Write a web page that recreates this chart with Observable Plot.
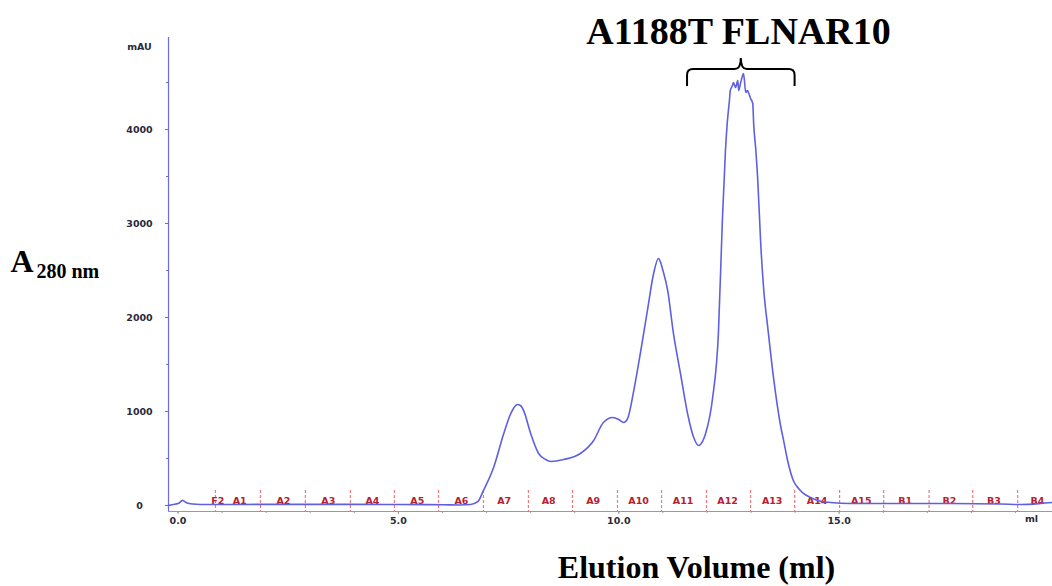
<!DOCTYPE html>
<html><head><meta charset="utf-8">
<script src="https://cdn.jsdelivr.net/npm/d3@7"></script>
<script src="https://cdn.jsdelivr.net/npm/@observablehq/plot@0.6"></script>
<style>html,body{margin:0;padding:0;background:#fff}#chart svg{display:block}</style>
</head><body><div id="chart"></div>
<script>
// Elution volume (ml) and absorbance (mAU)
const volume = [-0.22, -0.12, 0.0, 0.06, 0.10, 0.14, 0.19, 0.33, 0.51, 1.0, 2.0, 3.0, 4.0, 5.0, 6.0, 6.4, 6.64, 6.80, 6.93, 7.16, 7.39, 7.54, 7.61, 7.70, 7.77, 7.84, 8.0, 8.18, 8.34, 8.46, 8.75, 9.13, 9.43, 9.65, 9.86, 10.0, 10.11, 10.20, 10.34, 10.50, 10.66, 10.79, 10.90, 10.95, 10.99, 11.11, 11.24, 11.40, 11.56, 11.70, 11.81, 11.90, 11.97, 12.13, 12.26, 12.35, 12.42, 12.46, 12.51, 12.53, 12.58, 12.60, 12.65, 12.70, 12.72, 12.76, 12.81, 12.83, 12.88, 12.92, 12.95, 12.99, 13.04, 13.06, 13.11, 13.15, 13.22, 13.29, 13.38, 13.51, 13.67, 13.74, 13.83, 13.96, 14.08, 14.19, 14.35, 14.51, 14.80, 15.26, 16.39, 17.53, 18.66, 19.12, 19.57, 19.84];
const absorbance = [0, 10, 20, 40, 55, 45, 30, 15, 10, 10, 12, 12, 12, 10, 8, 5, 10, 40, 160, 404, 766, 968, 1032, 1074, 1064, 1011, 766, 553, 489, 468, 489, 553, 691, 883, 936, 915, 883, 925, 1223, 1649, 2106, 2468, 2628, 2585, 2521, 2287, 1830, 1404, 979, 723, 638, 681, 766, 1149, 1830, 3032, 3777, 4064, 4309, 4415, 4468, 4500, 4447, 4521, 4415, 4489, 4574, 4596, 4394, 4415, 4383, 4330, 4277, 4064, 3777, 3489, 2787, 2287, 1894, 1362, 851, 691, 479, 266, 181, 128, 85, 53, 32, 21, 21, 21, 16, 10, 21, 32];

// Fraction collector marks
const fractionBounds = [0.85, 1.87, 2.89, 3.91, 4.91, 5.91, 6.93, 7.95, 8.95, 9.97, 10.97, 11.99, 12.99, 13.99, 15.01, 16.01, 17.04, 18.03, 19.05];
const fractionNames = ["F2", "A1", "A2", "A3", "A4", "A5", "A6", "A7", "A8", "A9", "A10", "A11", "A12", "A13", "A14", "A15", "B1", "B2", "B3", "B4"];
const fractionLabelX = [0.90, 1.40, 2.39, 3.41, 4.41, 5.43, 6.43, 7.40, 8.41, 9.42, 10.45, 11.46, 12.47, 13.48, 14.50, 15.50, 16.50, 17.50, 18.51, 19.50];

// Axes
const xDomain = [-0.216, 19.84];
const yDomain = [-64, 4979];
const xTicks = [0, 5, 10, 15];
const xMinorTicks = d3.range(0, 20, 1);
const yTicks = [0, 1000, 2000, 3000, 4000];
const yMinorTicks = d3.range(0, 5000, 500);

// Annotation
const titleText = "A1188T FLNAR10";
const bracketRange = [11.56, 14.0];
const bracketLevel = 4638;
const xUnit = "ml";
const yUnit = "mAU";
const xTitle = "Elution Volume (ml)";
const yTitleMain = "A";
const yTitleSub = "280 nm";

const table = volume.map((v, i) => ({volume: v, absorbance: absorbance[i]}));

const curveColor = "#5f5fe2";
const axisColor = "#6c6ce0";
const fracLine = "#ea7a84";
const fracText = "#b8202e";
const tickFont = "DejaVu Sans";
const serif = "Liberation Serif";

function brace(index, {x, y}) {
  const x0 = x(bracketRange[0]), x1 = x(bracketRange[1]), xm = (x0 + x1) / 2;
  const yb = y(bracketLevel);
  const p = d3.path();
  p.moveTo(x0, yb + 17);
  p.lineTo(x0, yb + 6);
  p.quadraticCurveTo(x0, yb, x0 + 6, yb);
  p.lineTo(xm - 6, yb);
  p.quadraticCurveTo(xm, yb, xm, yb - 11);
  p.quadraticCurveTo(xm, yb, xm + 6, yb);
  p.lineTo(x1 - 6, yb);
  p.quadraticCurveTo(x1, yb, x1, yb + 6);
  p.lineTo(x1, yb + 17);
  return d3.create("svg:path").attr("d", p.toString()).attr("fill", "none")
    .attr("stroke", "#000").attr("stroke-width", 2).node();
}

const chart = Plot.plot({
  width: 1052,
  height: 586,
  marginLeft: 168,
  marginRight: 0,
  marginTop: 37,
  marginBottom: 75,
  x: {domain: xDomain, axis: null},
  y: {domain: yDomain, axis: null},
  style: {background: "#fff"},
  marks: [
    Plot.ruleX(fractionBounds, {stroke: fracLine, strokeDasharray: "3,2", strokeWidth: 1.2, insetTop: 453}),
    Plot.text(fractionNames, {x: (d, i) => fractionLabelX[i], frameAnchor: "bottom", dy: -8, fill: fracText, fontFamily: tickFont, fontWeight: "bold", fontSize: 9.5, letterSpacing: 0.8}),
    Plot.ruleY([yDomain[0]], {stroke: "#9a9a9a", strokeWidth: 1}),
    Plot.ruleX([xDomain[0]], {stroke: axisColor, strokeWidth: 1.2}),
    Plot.axisX(xMinorTicks, {tickSize: 2, tickFormat: () => "", stroke: "#9a9a9a", label: null}),
    Plot.axisX(xTicks, {tickSize: 3, tickPadding: 3, tickFormat: d => d.toFixed(1), stroke: "#9a9a9a", fill: "#2a2a3a", fontFamily: tickFont, fontWeight: "bold", fontSize: 9.5, letterSpacing: 0.6, label: null}),
    Plot.axisY(yMinorTicks, {tickSize: 2, tickFormat: () => "", stroke: axisColor, label: null}),
    Plot.axisY(yTicks, {tickSize: 3, tickPadding: 26, textAnchor: "middle", tickFormat: d => String(d), stroke: axisColor, fill: "#2a2a3a", fontFamily: tickFont, fontWeight: "bold", fontSize: 9.5, letterSpacing: 0.6, label: null}),
    Plot.text([yUnit], {frameAnchor: "top-left", dx: -29, dy: 6, textAnchor: "middle", fill: "#2a2a3a", fontFamily: tickFont, fontWeight: "bold", fontSize: 9.5, letterSpacing: 0.6}),
    Plot.text([xUnit], {frameAnchor: "bottom-right", dx: -21, dy: 10, textAnchor: "middle", fill: "#2a2a3a", fontFamily: tickFont, fontWeight: "bold", fontSize: 9.5}),
    Plot.line(table, {x: "volume", y: "absorbance", stroke: curveColor, strokeWidth: 1.6, curve: "monotone-x"}),
    brace,
    Plot.text([titleText], {frameAnchor: "top-left", dx: 570, dy: -20, textAnchor: "middle", fill: "#000", fontFamily: serif, fontWeight: "bold", fontSize: 38}),
    Plot.text([xTitle], {frameAnchor: "bottom-left", dx: 528, dy: 66, textAnchor: "middle", fill: "#000", fontFamily: serif, fontWeight: "bold", fontSize: 32}),
    Plot.text([yTitleMain], {frameAnchor: "left", dx: -158, dy: -13, textAnchor: "start", fill: "#000", fontFamily: serif, fontWeight: "bold", fontSize: 32}),
    Plot.text([yTitleSub], {frameAnchor: "left", dx: -132, dy: -3, textAnchor: "start", fill: "#000", fontFamily: serif, fontWeight: "bold", fontSize: 20})
  ]
});
document.getElementById("chart").appendChild(chart);
</script>
</body></html>
